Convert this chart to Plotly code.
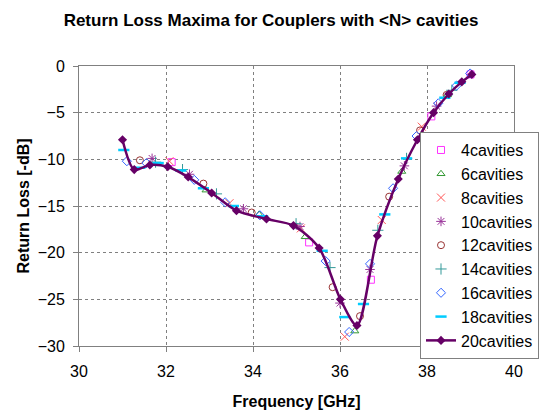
import plotly.graph_objects as go

# ---- data ----
x4 = [32.13, 35.29, 36.71, 38.10, 39.00]
y4 = [-10.3, -18.9, -22.9, -5.4, -0.9]

x6 = [32.92, 34.14, 35.20, 36.34, 37.42, 38.47]
y6 = [-13.3, -15.9, -18.3, -28.4, -11.3, -3.1]

x8 = [32.08, 33.46, 35.10, 36.11, 36.96, 37.88]
y8 = [-10.2, -14.7, -17.4, -29.0, -16.5, -6.5]

x10 = [31.68, 32.54, 33.78, 35.08, 36.00, 36.69, 37.48, 38.22]
y10 = [-9.9, -11.6, -15.3, -17.2, -25.4, -21.8, -10.7, -4.3]

x12 = [31.40, 32.86, 33.97, 35.83, 36.46, 37.13, 37.84, 38.45]
y12 = [-10.1, -12.6, -15.7, -23.7, -26.8, -14.0, -6.9, -3.1]

x14 = [31.76, 32.38, 33.16, 34.99, 35.77, 36.87, 37.53, 38.57]
y14 = [-10.3, -11.1, -13.7, -16.9, -21.6, -17.6, -9.9, -2.6]

x16 = [31.10, 31.55, 32.65, 33.36, 34.16, 35.67, 36.21, 36.69, 37.22, 37.76, 38.26, 38.68, 38.99]
y16 = [-10.2, -10.4, -12.2, -14.6, -16.0, -20.9, -28.5, -21.2, -13.1, -7.5, -4.0, -2.1, -0.8]

x18 = [31.03, 31.40, 31.82, 32.34, 32.86, 33.55, 34.22, 35.59, 36.11, 36.54, 37.03, 37.53, 38.41, 38.76]
y18 = [-9.0, -10.9, -10.4, -11.2, -13.1, -15.0, -16.1, -19.8, -26.9, -25.5, -15.9, -9.9, -3.4, -1.8]

x20 = [31.00, 31.27, 31.63, 32.04, 32.51, 33.05, 33.62, 34.31, 34.93, 35.52,
       36.01, 36.39, 36.86, 37.34, 37.78, 38.15, 38.50, 38.80, 39.03]
y20 = [-7.9, -11.1, -10.6, -10.8, -11.9, -13.6, -15.5, -16.4, -17.1, -19.5,
       -25.0, -27.8, -18.2, -12.1, -7.9, -5.0, -3.0, -1.7, -0.9]

x_ticks = [30, 32, 34, 36, 38, 40]
y_ticks = [0, -5, -10, -15, -20, -25, -30]

marker_series = [
    ("4cavities", x4, y4, "square-open", "#FF33FF", 7),
    ("6cavities", x6, y6, "triangle-up-open", "#339933", 7),
    ("8cavities", x8, y8, "x-thin-open", "#FF5555", 8),
    ("10cavities", x10, y10, "asterisk-open", "#993399", 8),
    ("12cavities", x12, y12, "circle-open", "#993333", 7),
    ("14cavities", x14, y14, "cross-thin-open", "#339999", 8),
    ("16cavities", x16, y16, "diamond-open", "#3366FF", 7),
    ("18cavities", x18, y18, "line-ew-open", "#00CCFF", 8),
]

fig = go.Figure()
for name, xs, ys, sym, col, sz in marker_series:
    fig.add_trace(go.Scatter(
        x=xs, y=ys, name=name, mode="markers", legendgroup=name,
        marker=dict(symbol=sym, size=sz, color=col,
                    line=dict(color=col, width=2.5 if sym == "line-ew-open" else 1)),
    ))

fig.add_trace(go.Scatter(
    x=x20, y=y20, name="20cavities", mode="lines+markers", legendgroup="20cavities",
    line=dict(color="#660066", width=2.5, shape="spline", smoothing=0.8),
    marker=dict(symbol="diamond", size=7, color="#660066"),
))

fig.update_layout(
    width=542, height=410,
    margin=dict(l=79, r=28, t=66, b=64, autoexpand=False),
    paper_bgcolor="white", plot_bgcolor="white",
    font=dict(family="Liberation Sans, Arial, sans-serif", size=16, color="black"),
    title=dict(text="<b>Return Loss Maxima for Couplers with &lt;N&gt; cavities</b>",
               x=0.5, xref="container", xanchor="center", y=0.95, yanchor="middle",
               font=dict(size=17, color="black")),
    showlegend=True,
    legend=dict(x=1.0575, y=0.764, xanchor="right", yanchor="top",
                bgcolor="white", bordercolor="#808080", borderwidth=1,
                font=dict(size=16), tracegroupgap=0,
                itemwidth=30),
)

fig.update_xaxes(
    range=[30, 40], tickvals=x_ticks, ticks="outside", ticklen=5, tickcolor="#808080",
    showline=True, linecolor="#808080", linewidth=1, mirror=True,
    showgrid=True, gridcolor="#808080", griddash="dot", gridwidth=1, zeroline=False,
    ticklabelstandoff=6,
    title=dict(text="<b>Frequency [GHz]</b>", font=dict(size=16), standoff=16),
)
fig.update_yaxes(
    range=[-30, 0], tickvals=y_ticks, ticks="outside", ticklen=5, tickcolor="#808080",
    showline=True, linecolor="#808080", linewidth=1, mirror=True,
    showgrid=True, gridcolor="#808080", griddash="dot", gridwidth=1, zeroline=False,
    ticklabelstandoff=5,
    title=dict(text="<b>Return Loss [-dB]</b>", font=dict(size=16), standoff=4),
)

fig.write_html("out.html")
